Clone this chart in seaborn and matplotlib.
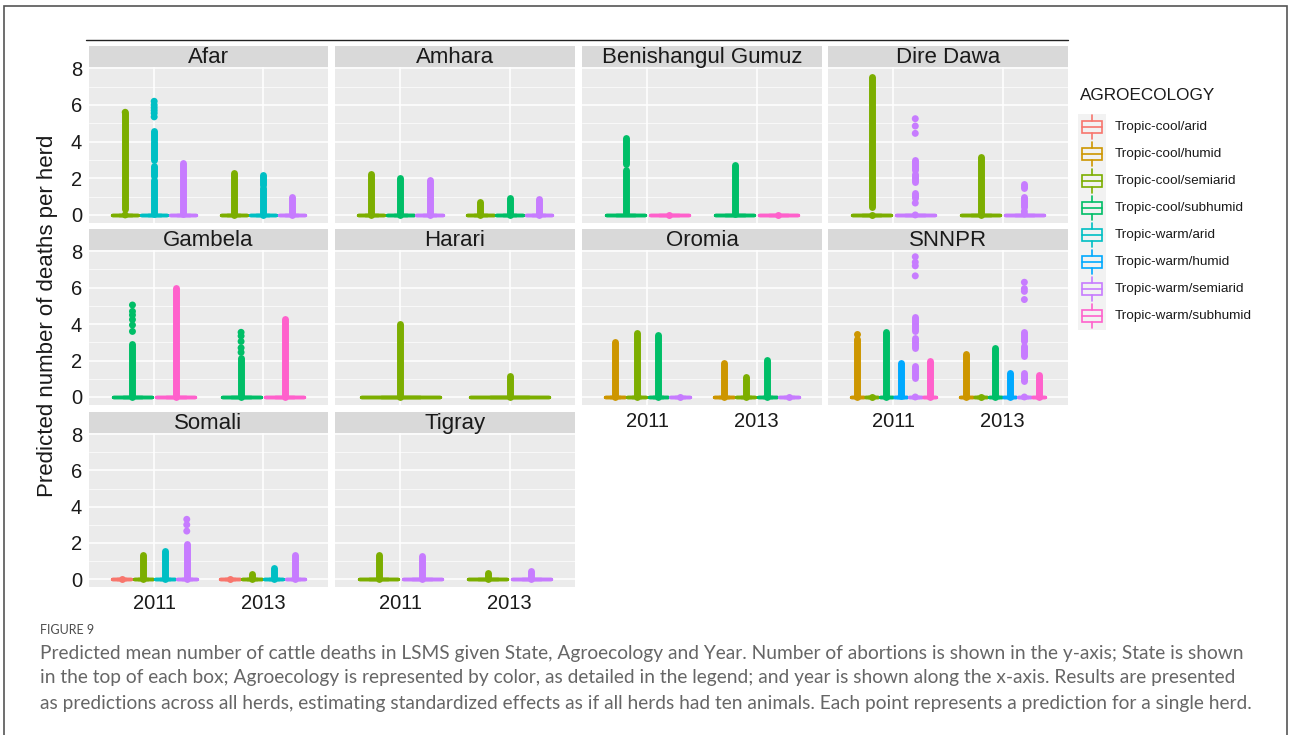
import matplotlib
matplotlib.use("Agg")
import matplotlib.pyplot as plt
import pandas as pd
import seaborn as sns
from matplotlib.patches import Rectangle
from matplotlib.lines import Line2D

# ---- data ----
STATES = ["Afar", "Amhara", "Benishangul Gumuz", "Dire Dawa",
          "Gambela", "Harari", "Oromia", "SNNPR", "Somali", "Tigray"]
YEARS = ["2011", "2013"]
AGRO = ["Tropic-cool/arid", "Tropic-cool/humid", "Tropic-cool/semiarid",
        "Tropic-cool/subhumid", "Tropic-warm/arid", "Tropic-warm/humid",
        "Tropic-warm/semiarid", "Tropic-warm/subhumid"]
AGRO_COLORS = ["#F8766D", "#CD9600", "#7CAE00", "#00BE67",
               "#00BFC4", "#00A9FF", "#C77CFF", "#FF61CC"]

# agroecologies (index into AGRO) found in each state
STATE_AGRO = {
    "Afar": [2, 4, 6],
    "Amhara": [2, 3, 6],
    "Benishangul Gumuz": [3, 7],
    "Dire Dawa": [2, 6],
    "Gambela": [3, 7],
    "Harari": [2],
    "Oromia": [1, 2, 3, 6],
    "SNNPR": [1, 2, 3, 5, 6, 7],
    "Somali": [0, 2, 4, 6],
    "Tigray": [2, 6],
}
# every box collapses on zero (median = quartiles = 0)
BOX_MEDIAN = 0.0

# stretches of overlapping outlier points: (state, year, agro, low, high)
DENSE = [
    ("Afar", "2011", 2, 0.3, 5.55),
    ("Afar", "2011", 4, 0.05, 1.9),
    ("Afar", "2011", 4, 2.1, 2.65),
    ("Afar", "2011", 4, 3.0, 4.0),
    ("Afar", "2011", 4, 4.1, 4.6),
    ("Afar", "2011", 6, 0.05, 2.85),
    ("Afar", "2013", 2, 0.0, 2.3),
    ("Afar", "2013", 4, 0.0, 1.45),
    ("Afar", "2013", 4, 1.65, 2.2),
    ("Afar", "2013", 6, 0.0, 1.0),
    ("Amhara", "2011", 2, 0.0, 2.25),
    ("Amhara", "2011", 3, 0.0, 2.0),
    ("Amhara", "2011", 6, 0.0, 1.9),
    ("Amhara", "2013", 2, 0.0, 0.7),
    ("Amhara", "2013", 3, 0.0, 0.9),
    ("Amhara", "2013", 6, 0.0, 0.85),
    ("Benishangul Gumuz", "2011", 3, 0.1, 2.45),
    ("Benishangul Gumuz", "2011", 3, 2.8, 4.2),
    ("Benishangul Gumuz", "2013", 3, 0.05, 2.7),
    ("Dire Dawa", "2011", 2, 0.45, 7.5),
    ("Dire Dawa", "2011", 6, 2.45, 3.0),
    ("Dire Dawa", "2011", 6, 1.8, 2.25),
    ("Dire Dawa", "2011", 6, 0.9, 1.2),
    ("Dire Dawa", "2013", 2, 0.0, 3.15),
    ("Dire Dawa", "2013", 6, 1.45, 1.7),
    ("Dire Dawa", "2013", 6, 0.45, 1.0),
    ("Gambela", "2011", 3, 0.0, 2.9),
    ("Gambela", "2011", 7, 0.0, 6.0),
    ("Gambela", "2013", 3, 0.0, 2.15),
    ("Gambela", "2013", 7, 0.0, 4.3),
    ("Harari", "2011", 2, 0.0, 4.0),
    ("Harari", "2013", 2, 0.0, 1.15),
    ("Oromia", "2011", 1, 0.0, 3.0),
    ("Oromia", "2011", 2, 0.0, 3.5),
    ("Oromia", "2011", 3, 0.0, 3.4),
    ("Oromia", "2013", 1, 0.0, 1.85),
    ("Oromia", "2013", 2, 0.0, 1.1),
    ("Oromia", "2013", 3, 0.0, 2.05),
    ("SNNPR", "2011", 1, 0.0, 3.2),
    ("SNNPR", "2011", 3, 0.0, 3.55),
    ("SNNPR", "2011", 5, 0.05, 1.85),
    ("SNNPR", "2011", 6, 3.6, 4.4),
    ("SNNPR", "2011", 6, 2.7, 3.25),
    ("SNNPR", "2011", 6, 1.05, 1.7),
    ("SNNPR", "2011", 7, 0.0, 2.0),
    ("SNNPR", "2013", 1, 0.0, 2.35),
    ("SNNPR", "2013", 3, 0.0, 2.7),
    ("SNNPR", "2013", 5, 0.0, 1.3),
    ("SNNPR", "2013", 6, 3.1, 3.55),
    ("SNNPR", "2013", 6, 2.25, 2.8),
    ("SNNPR", "2013", 6, 0.9, 1.3),
    ("SNNPR", "2013", 7, 0.0, 1.2),
    ("Somali", "2011", 2, 0.0, 1.35),
    ("Somali", "2011", 4, 0.0, 1.55),
    ("Somali", "2011", 6, 0.0, 1.95),
    ("Somali", "2013", 2, 0.0, 0.3),
    ("Somali", "2013", 4, 0.0, 0.6),
    ("Somali", "2013", 6, 0.0, 1.35),
    ("Tigray", "2011", 2, 0.0, 1.35),
    ("Tigray", "2011", 6, 0.0, 1.3),
    ("Tigray", "2013", 2, 0.0, 0.35),
    ("Tigray", "2013", 6, 0.0, 0.45),
]

# isolated outlier points: (state, year, agro, values)
POINTS = [
    ("Afar", "2011", 2, [0.0, 5.6]),
    ("Afar", "2011", 4, [5.35, 5.55, 5.7, 5.85, 6.0, 6.2]),
    ("Benishangul Gumuz", "2011", 7, [0.0]),
    ("Benishangul Gumuz", "2013", 7, [0.0]),
    ("Dire Dawa", "2011", 2, [0.0]),
    ("Dire Dawa", "2011", 6, [0.0, 0.65, 4.45, 4.85, 5.25]),
    ("Dire Dawa", "2013", 6, [0.05, 0.2]),
    ("Gambela", "2011", 3, [3.6, 3.95, 4.25, 4.5, 4.7, 5.05]),
    ("Gambela", "2013", 3, [2.45, 2.7, 3.05, 3.35, 3.55]),
    ("Oromia", "2011", 6, [0.0]),
    ("Oromia", "2013", 6, [0.0]),
    ("SNNPR", "2011", 1, [3.45]),
    ("SNNPR", "2011", 2, [0.0]),
    ("SNNPR", "2011", 6, [0.0, 6.65, 7.2, 7.4, 7.7]),
    ("SNNPR", "2013", 2, [0.0]),
    ("SNNPR", "2013", 6, [0.0, 5.35, 5.8, 5.95, 6.3]),
    ("Somali", "2011", 0, [0.0]),
    ("Somali", "2011", 6, [2.65, 3.0, 3.3]),
    ("Somali", "2013", 0, [0.0]),
]

Y_TICKS = [0, 2, 4, 6, 8]
Y_LABEL = "Predicted number of deaths per herd"
LEGEND_TITLE = "AGROECOLOGY"
FIG_LABEL = "FIGURE 9"
CAPTION = [
    "Predicted mean number of cattle deaths in LSMS given State, Agroecology and Year. Number of abortions is shown in the y-axis; State is shown",
    "in the top of each box; Agroecology is represented by color, as detailed in the legend; and year is shown along the x-axis. Results are presented",
    "as predictions across all herds, estimating standardized effects as if all herds had ten animals. Each point represents a prediction for a single herd.",
]

# ---- tables ----
palette = dict(zip(AGRO, AGRO_COLORS))
box_df = pd.DataFrame(
    [(s, y, AGRO[k], BOX_MEDIAN) for s in STATES for y in YEARS for k in STATE_AGRO[s]],
    columns=["state", "year", "agro", "deaths"])
pts_df = pd.DataFrame(
    [(s, y, AGRO[k], v) for s, y, k, vals in POINTS for v in vals],
    columns=["state", "year", "agro", "deaths"])
dense_df = pd.DataFrame(
    [(s, y, AGRO[k], lo, hi) for s, y, k, lo, hi in DENSE],
    columns=["state", "year", "agro", "low", "high"])

# ---- style ----
sns.set_style("white")
plt.rcParams["font.family"] = ["Liberation Sans", "DejaVu Sans"]

W, H = 1290, 735
fig = plt.figure(figsize=(W / 100, H / 100), dpi=100)


def rect(x0, y0, x1, y1):
    return [x0 / W, 1 - y1 / H, (x1 - x0) / W, (y1 - y0) / H]


COL_X = [(89, 328), (335, 575), (582, 822), (828, 1068)]
ROW_Y = [(67, 223), (250, 405), (433, 587)]
STRIP_H = 21
DODGE_W = 0.8
PT_SIZE = 5.0
TEXT_C = "#1a1a1a"

for i, state in enumerate(STATES):
    r, c = divmod(i, 4)
    x0, x1 = COL_X[c]
    y0, y1 = ROW_Y[r]
    ax = fig.add_axes(rect(x0, y0, x1, y1))
    hue_order = [AGRO[k] for k in STATE_AGRO[state]]

    sns.boxplot(data=box_df[box_df.state == state], x="year", y="deaths",
                hue="agro", order=YEARS, hue_order=hue_order, palette=palette,
                width=DODGE_W, gap=0.1, fill=False, linewidth=2.4,
                showfliers=False, legend=False, ax=ax)

    sub = pts_df[pts_df.state == state]
    if len(sub):
        sns.stripplot(data=sub, x="year", y="deaths", hue="agro", order=YEARS,
                      hue_order=hue_order, palette=palette, dodge=True,
                      jitter=False, size=PT_SIZE, linewidth=0, legend=False,
                      ax=ax, zorder=3)

    # dense runs of outliers, placed with the same dodge offsets seaborn uses
    n = len(hue_order)
    step = DODGE_W / n
    for _, row in dense_df[dense_df.state == state].iterrows():
        k = hue_order.index(row.agro)
        xp = YEARS.index(row.year) + (k - (n - 1) / 2) * step
        ax.plot([xp, xp], [row.low, row.high], color=palette[row.agro],
                lw=PT_SIZE, solid_capstyle="round", zorder=3)

    ax.set_facecolor("#EBEBEB")
    ax.set_xlim(-0.6, 1.6)
    ax.set_ylim(-0.44, 8.07)
    ax.set_yticks(Y_TICKS)
    ax.set_yticks([1, 3, 5, 7], minor=True)
    ax.grid(True, which="major", color="white", lw=1.1)
    ax.grid(True, which="minor", axis="y", color="white", lw=0.5)
    ax.set_axisbelow(True)
    for sp in ax.spines.values():
        sp.set_visible(False)
    ax.set_xlabel("")
    ax.set_ylabel("")
    ax.tick_params(which="major", length=3, width=0.8, color="#333333",
                   labelsize=14.5, labelcolor=TEXT_C, pad=2)
    ax.tick_params(which="minor", length=0)
    if c != 0:
        ax.tick_params(axis="y", left=False, labelleft=False)
    if i < 6:
        ax.tick_params(axis="x", bottom=False, labelbottom=False)

    sax = fig.add_axes(rect(x0, y0 - STRIP_H, x1, y0))
    sax.set_facecolor("#D9D9D9")
    sax.set_xticks([])
    sax.set_yticks([])
    for sp in sax.spines.values():
        sp.set_visible(False)
    sax.text(0.5, 0.45, state, ha="center", va="center", fontsize=16,
             color=TEXT_C, transform=sax.transAxes)

fig.text(48 / W, 1 - 316 / H, Y_LABEL, rotation=90, ha="center", va="center",
         fontsize=16, color=TEXT_C)

# ---- legend ----
fig.text(1080 / W, 1 - 96 / H, LEGEND_TITLE, ha="left", va="center",
         fontsize=12.3, color=TEXT_C)
KEY_TOP, KEY_H = 113.5, 27
lax = fig.add_axes(rect(1078, KEY_TOP, 1106, KEY_TOP + KEY_H * len(AGRO)))
lax.set_facecolor("#F2F2F2")
lax.set_xlim(0, 1)
lax.set_ylim(len(AGRO), 0)
lax.set_xticks([])
lax.set_yticks([])
for sp in lax.spines.values():
    sp.set_visible(False)
for j, (name, col) in enumerate(zip(AGRO, AGRO_COLORS)):
    lax.add_patch(Rectangle((0.14, j + 0.27), 0.72, 0.46, fill=False,
                            edgecolor=col, lw=1.2))
    lax.plot([0.14, 0.86], [j + 0.5, j + 0.5], color=col, lw=1.2)
    lax.plot([0.5, 0.5], [j + 0.04, j + 0.27], color=col, lw=1.2)
    lax.plot([0.5, 0.5], [j + 0.73, j + 0.96], color=col, lw=1.2)
    fig.text(1115 / W, 1 - (KEY_TOP + KEY_H * (j + 0.5)) / H, name,
             ha="left", va="center", fontsize=9.7, color=TEXT_C)

# ---- page furniture ----
fig.add_artist(Rectangle((4 / W, -0.05), (1287 - 4) / W, 1 - 6 / H + 0.05,
                         transform=fig.transFigure, fill=False,
                         edgecolor="#555555", lw=1.2))
fig.add_artist(Line2D([86 / W, 1068 / W], [1 - 39.5 / H] * 2,
                      transform=fig.transFigure, color="#222222", lw=1.0))

fig.text(40 / W, 1 - 630 / H, FIG_LABEL, ha="left", va="center",
         fontsize=9, color="#4d4d4d", family=["Lato", "DejaVu Sans"])
cap_texts = []
for yy, line in zip([654, 678, 703], CAPTION):
    cap_texts.append(fig.text(40 / W, 1 - yy / H, line, ha="left", va="center",
                              fontsize=12, color="#666666",
                              family=["Lato", "DejaVu Sans"]))
renderer = fig.canvas.get_renderer()
targets = [1210, 1210, 1212]
scale = min(tw / t.get_window_extent(renderer).width
            for tw, t in zip(targets, cap_texts))
for t in cap_texts:
    t.set_fontsize(12 * scale)

fig.savefig("out.png", dpi=100)
